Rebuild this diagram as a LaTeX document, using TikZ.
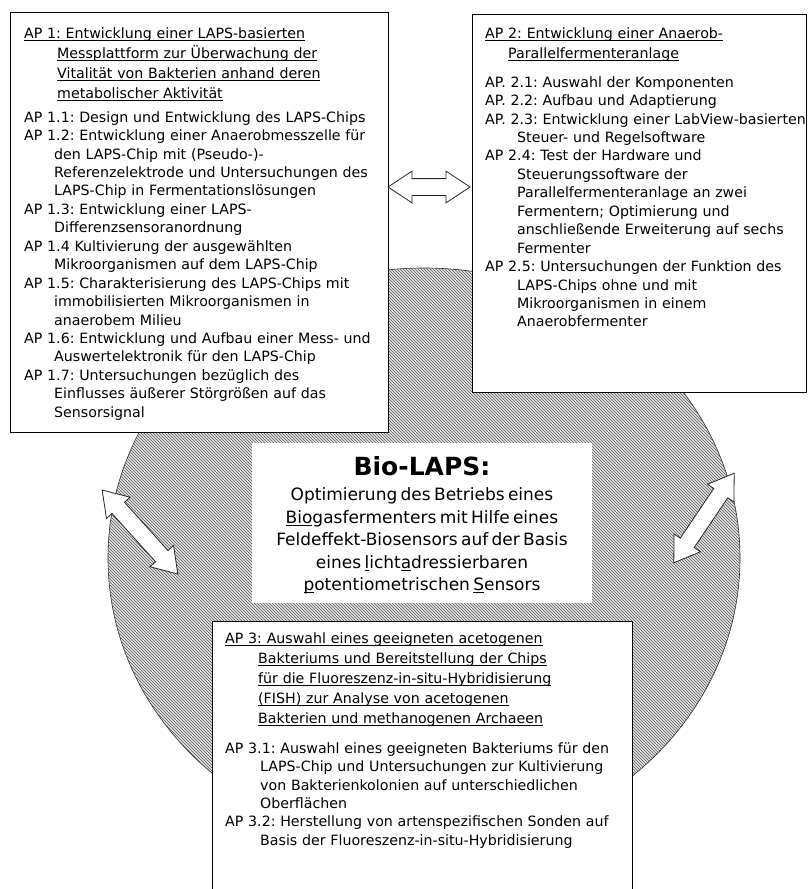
\documentclass[tikz,border=0pt]{standalone}
\usepackage{fontspec}
\setmainfont{DejaVu Sans}
\frenchspacing
\usetikzlibrary{shapes.arrows, shapes.geometric, positioning, patterns}
\tikzset{
    apframe/.style={rectangle, draw=black, line width=1.1pt, fill=white, anchor=north west, inner sep=0pt},
    aptext/.style={inner sep=0pt, text width=420pt, align=left, font=\fontsize{14.2pt}{20pt}\selectfont},
    ring/.style={ellipse, draw=black!85, line width=0.6pt, fill=gray!22, postaction={pattern=north west lines, pattern color=black!65}, inner sep=0pt},
    blockarrow/.style={double arrow, draw=black!85, line width=0.8pt, fill=white, inner sep=0pt, inner ysep=8pt, double arrow head extend=7.5pt, double arrow tip angle=67},
    centerbox/.style={rectangle, fill=white, inner sep=0pt, align=center}
}
\newcommand\uln[1]{\leavevmode\setbox0=\hbox{#1}\rlap{\rule[-2.6pt]{\wd0}{0.9pt}}\box0}

\begin{document}
\begin{tikzpicture}[x=1pt, y=-1pt]
\useasboundingbox (0,0) rectangle (810,889);
\clip (0,0) rectangle (810,889);

% Ring behind everything
\node (ring) [ring, minimum width=632pt, minimum height=580pt] at (424,558) {};

% Frames
\node (ap1) [apframe, minimum width=378pt, minimum height=420pt] at (10,12) {};
\node (ap2) [apframe, minimum width=334pt, minimum height=378pt] at (472,14) {};
\node (ap3) [apframe, minimum width=420pt, minimum height=290pt] at (212,621) {};

% Centre box
\node (bio) [centerbox, minimum width=340pt, minimum height=160pt, text width=340pt] at (422,523) {%
{\fontsize{25pt}{30pt}\selectfont\bfseries Bio-LAPS:}\par
\vspace{2.5pt}\fontsize{17pt}{22.5pt}\selectfont
Optimierung des Betriebs eines\\
\uln{Bio}gasfermenters mit Hilfe eines\\
Feldeffekt-Biosensors auf der Basis\\
eines \uln{l}icht\uln{a}dressierbaren\\
\uln{p}otentiometrischen \uln{S}ensors\par
\vspace{-5pt}\hrule height 0pt};

% Work package texts
\node (ap1text) [aptext, below right=15.2pt and 14pt of ap1.north west] {%
\uln{AP 1: Entwicklung einer LAPS-basierten}\\
\hspace*{33pt}\uln{Messplattform zur Überwachung der}\\
\hspace*{33pt}\uln{Vitalität von Bakterien anhand deren}\\
\hspace*{33pt}\uln{metabolischer Aktivität}\par
\vspace{5.5pt}\fontsize{14.2pt}{18.45pt}\selectfont
AP 1.1: Design und Entwicklung des LAPS-Chips\\
AP 1.2: Entwicklung einer Anaerobmesszelle für\\
\hspace*{30pt}den LAPS-Chip mit (Pseudo-)-\\
\hspace*{30pt}Referenzelektrode und Untersuchungen des\\
\hspace*{30pt}LAPS-Chip in Fermentationslösungen\\
AP 1.3: Entwicklung einer LAPS-\\
\hspace*{30pt}Differenzsensoranordnung\\
AP 1.4 Kultivierung der ausgewählten\\
\hspace*{30pt}Mikroorganismen auf dem LAPS-Chip\\
AP 1.5: Charakterisierung des LAPS-Chips mit\\
\hspace*{30pt}immobilisierten Mikroorganismen in\\
\hspace*{30pt}anaerobem Milieu\\
AP 1.6: Entwicklung und Aufbau einer Mess- und\\
\hspace*{30pt}Auswertelektronik für den LAPS-Chip\\
AP 1.7: Untersuchungen bezüglich des\\
\hspace*{30pt}Einflusses äußerer Störgrößen auf das\\
\hspace*{30pt}Sensorsignal\par};

\node (ap2text) [aptext, below right=13.2pt and 13pt of ap2.north west] {%
\uln{AP 2: Entwicklung einer Anaerob-}\\
\hspace*{23pt}\uln{Parallelfermenteranlage}\par
\vspace{10.5pt}\fontsize{14.2pt}{18.45pt}\selectfont
AP. 2.1: Auswahl der Komponenten\\
AP. 2.2: Aufbau und Adaptierung\\
AP. 2.3: Entwicklung einer LabView-basierten\\
\hspace*{32pt}Steuer- und Regelsoftware\\
AP 2.4: Test der Hardware und\\
\hspace*{32pt}Steuerungssoftware der\\
\hspace*{32pt}Parallelfermenteranlage an zwei\\
\hspace*{32pt}Fermentern; Optimierung und\\
\hspace*{32pt}anschließende Erweiterung auf sechs\\
\hspace*{32pt}Fermenter\\
AP 2.5: Untersuchungen der Funktion des\\
\hspace*{32pt}LAPS-Chips ohne und mit\\
\hspace*{32pt}Mikroorganismen in einem\\
\hspace*{32pt}Anaerobfermenter\par};

\node (ap3text) [aptext, below right=11.2pt and 13pt of ap3.north west] {%
\uln{AP 3: Auswahl eines geeigneten acetogenen}\\
\hspace*{33pt}\uln{Bakteriums und Bereitstellung der Chips}\\
\hspace*{33pt}\uln{für die Fluoreszenz-in-situ-Hybridisierung}\\
\hspace*{33pt}\uln{(FISH) zur Analyse von acetogenen}\\
\hspace*{33pt}\uln{Bakterien und methanogenen Archaeen}\par
\vspace{11.5pt}\fontsize{14.2pt}{18.45pt}\selectfont
AP 3.1: Auswahl eines geeigneten Bakteriums für den\\
\hspace*{35pt}LAPS-Chip und Untersuchungen zur Kultivierung\\
\hspace*{35pt}von Bakterienkolonien auf unterschiedlichen\\
\hspace*{35pt}Oberflächen\\
AP 3.2: Herstellung von artenspezifischen Sonden auf\\
\hspace*{35pt}Basis der Fluoreszenz-in-situ-Hybridisierung\par};

% Arrows
\node (arr12) [blockarrow, minimum height=82pt] at (429,187) {};
\node (arrleft) [blockarrow, minimum height=113pt, rotate=-48] at (140,532) {};
\node (arrright) [blockarrow, minimum height=108pt, rotate=56] at (704,518) {};

\end{tikzpicture}
\end{document}
